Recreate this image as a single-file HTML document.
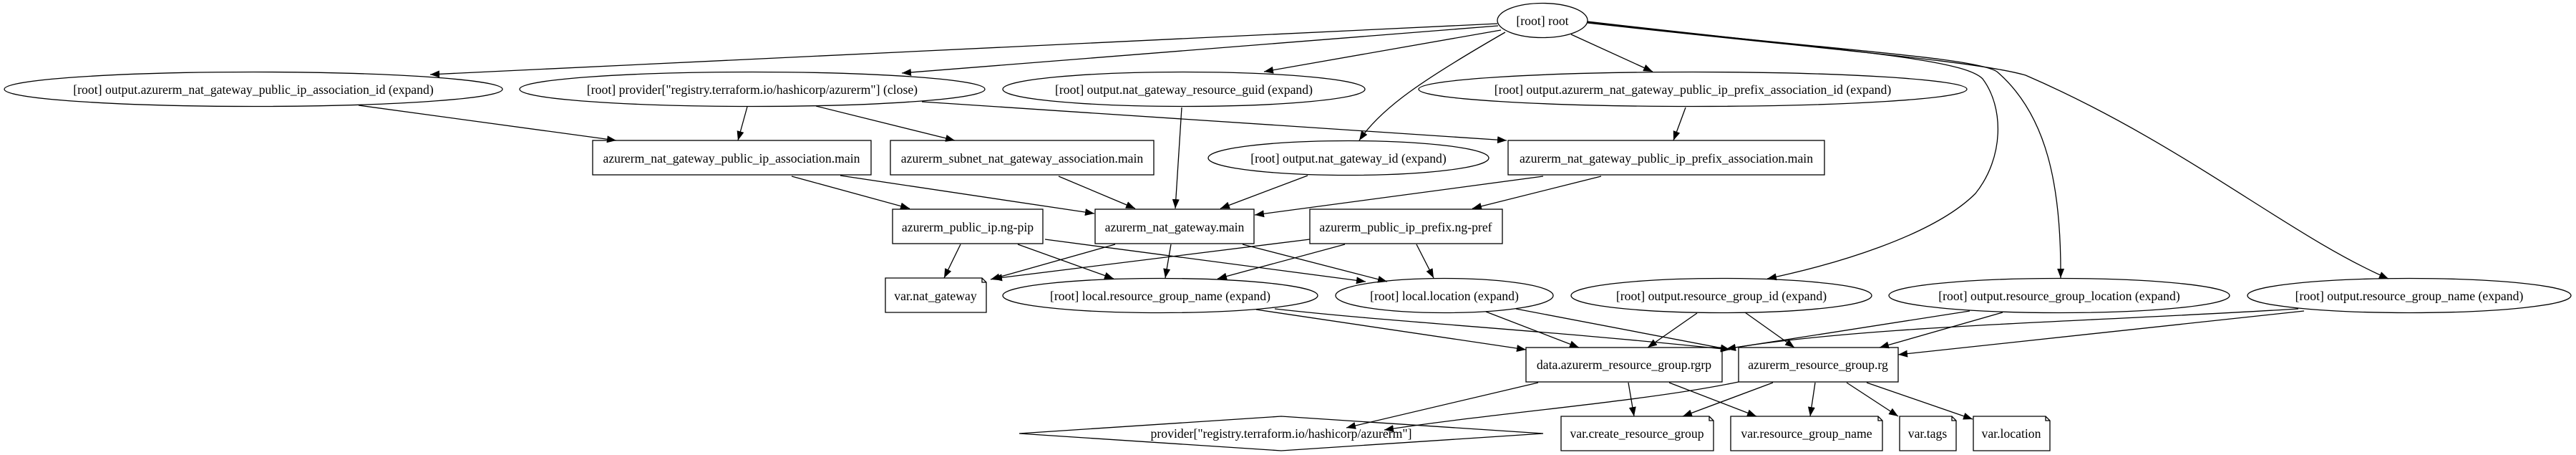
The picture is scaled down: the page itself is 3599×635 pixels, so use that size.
<!DOCTYPE html>
<html><head><meta charset="utf-8"><style>
html,body{margin:0;padding:0;background:#fff;}
svg{display:block;}
text{font-family:"Liberation Serif",serif;font-size:17.7px;fill:#000;}
</style></head><body>
<svg width="3599" height="635" viewBox="0 0 3599 635" xmlns="http://www.w3.org/2000/svg">
<defs>
<marker id="a" markerUnits="userSpaceOnUse" markerWidth="14" markerHeight="10" refX="13" refY="5" orient="auto">
<path d="M0,0 L13,5 L0,10 Z" fill="#000"/>
</marker>
</defs>
<g fill="none" stroke="#000" stroke-width="1.3">
<ellipse cx="2155" cy="28.5" rx="63" ry="24"/>
<ellipse cx="354" cy="124.5" rx="348" ry="24"/>
<ellipse cx="1051" cy="124.5" rx="325" ry="24"/>
<ellipse cx="1654" cy="124.5" rx="253" ry="24"/>
<ellipse cx="2365" cy="124.5" rx="383" ry="24"/>
<rect x="828" y="196" width="389" height="48"/>
<rect x="1244" y="196" width="368" height="48"/>
<ellipse cx="1884" cy="220.5" rx="196" ry="24"/>
<rect x="2107" y="196" width="442" height="48"/>
<rect x="1247" y="292" width="210" height="48"/>
<rect x="1530" y="292" width="222" height="48"/>
<rect x="1830" y="292" width="269" height="48"/>
<path d="M1237,388 H1372 L1378,394 V436 H1237 Z M1372,388 V394 H1378"/>
<ellipse cx="1621" cy="412.5" rx="220" ry="24"/>
<ellipse cx="2018" cy="412.5" rx="152" ry="24"/>
<ellipse cx="2405" cy="412.5" rx="210" ry="24"/>
<ellipse cx="2877" cy="412.5" rx="238" ry="24"/>
<ellipse cx="3366" cy="412.5" rx="226" ry="24"/>
<rect x="2132" y="485" width="274" height="48"/>
<rect x="2429" y="485" width="223" height="48"/>
<path d="M1790,581 L2156,605 L1790,629 L1424,605 Z"/>
<path d="M2181,581 H2388 L2394,587 V629 H2181 Z M2388,581 V587 H2394"/>
<path d="M2418,581 H2624 L2630,587 V629 H2418 Z M2624,581 V587 H2630"/>
<path d="M2654,581 H2727 L2733,587 V629 H2654 Z M2727,581 V587 H2733"/>
<path d="M2757,581 H2858 L2864,587 V629 H2757 Z M2858,581 V587 H2864"/>
</g>
<g fill="none" stroke="#000" stroke-width="1.3" marker-end="url(#a)">
<path d="M2092,33 L601,104"/>
<path d="M2093,36 L1260,102"/>
<path d="M2097,42 L1766,100"/>
<path d="M2103,45 C1990,110 1930,150 1899,196"/>
<path d="M2195,48 L2309,100"/>
<path d="M2218,30 C2560,70 2740,80 2770,110 C2800,150 2800,220 2760,270 C2700,330 2560,370 2469,389"/>
<path d="M2218,31 C2560,70 2760,80 2790,100 C2860,160 2880,260 2879,388"/>
<path d="M2218,32 C2560,70 2760,85 2830,105 C3050,200 3200,330 3337,389"/>
<path d="M501,147 L861,196"/>
<path d="M1044,149 L1031,196"/>
<path d="M1140,148 L1334,196"/>
<path d="M1288,142 L2105,196"/>
<path d="M1651,150 L1642,291"/>
<path d="M2355,150 L2338,196"/>
<path d="M1106,246 L1271,291"/>
<path d="M1174,245 L1529,298"/>
<path d="M1479,246 L1586,291"/>
<path d="M1827,245 L1705,291"/>
<path d="M2156,246 L1753,300"/>
<path d="M2237,246 L2057,291"/>
<path d="M1342,341 L1319,388"/>
<path d="M1422,341 L1556,389"/>
<path d="M1460,334 L1908,393"/>
<path d="M1558,341 L1384,390"/>
<path d="M1636,341 L1628,388"/>
<path d="M1736,341 L1938,393"/>
<path d="M1830,334 L1387,389"/>
<path d="M1879,341 L1701,389"/>
<path d="M1979,341 L2003,388"/>
<path d="M1755,432 L2132,488"/>
<path d="M1781,431 C1950,450 2150,460 2417,488"/>
<path d="M2076,435 L2206,485"/>
<path d="M2118,431 L2417,488"/>
<path d="M2371,437 L2302,485"/>
<path d="M2438,436 L2507,485"/>
<path d="M2752,434 L2412,487"/>
<path d="M2798,436 L2626,485"/>
<path d="M3211,431 C2900,450 2600,455 2412,487"/>
<path d="M3219,434 L2652,495"/>
<path d="M2149,534 L1881,597"/>
<path d="M2429,533 C2300,560 2100,575 1934,600"/>
<path d="M2275,534 L2283,581"/>
<path d="M2332,534 L2454,581"/>
<path d="M2477,534 L2351,581"/>
<path d="M2536,534 L2529,581"/>
<path d="M2580,534 L2652,581"/>
<path d="M2608,534 L2756,585"/>
</g>
<g text-anchor="middle">
<text x="2155" y="35">[root] root</text>
<text x="354" y="131">[root] output.azurerm_nat_gateway_public_ip_association_id (expand)</text>
<text x="1051" y="131">[root] provider["registry.terraform.io/hashicorp/azurerm"] (close)</text>
<text x="1654" y="131">[root] output.nat_gateway_resource_guid (expand)</text>
<text x="2365" y="131">[root] output.azurerm_nat_gateway_public_ip_prefix_association_id (expand)</text>
<text x="1022" y="227">azurerm_nat_gateway_public_ip_association.main</text>
<text x="1428" y="227">azurerm_subnet_nat_gateway_association.main</text>
<text x="1884" y="227">[root] output.nat_gateway_id (expand)</text>
<text x="2328" y="227">azurerm_nat_gateway_public_ip_prefix_association.main</text>
<text x="1352" y="323">azurerm_public_ip.ng-pip</text>
<text x="1641" y="323">azurerm_nat_gateway.main</text>
<text x="1964" y="323">azurerm_public_ip_prefix.ng-pref</text>
<text x="1307" y="419">var.nat_gateway</text>
<text x="1621" y="419">[root] local.resource_group_name (expand)</text>
<text x="2018" y="419">[root] local.location (expand)</text>
<text x="2405" y="419">[root] output.resource_group_id (expand)</text>
<text x="2877" y="419">[root] output.resource_group_location (expand)</text>
<text x="3366" y="419">[root] output.resource_group_name (expand)</text>
<text x="2269" y="515">data.azurerm_resource_group.rgrp</text>
<text x="2540" y="515">azurerm_resource_group.rg</text>
<text x="1790" y="611">provider["registry.terraform.io/hashicorp/azurerm"]</text>
<text x="2287" y="611">var.create_resource_group</text>
<text x="2524" y="611">var.resource_group_name</text>
<text x="2693" y="611">var.tags</text>
<text x="2810" y="611">var.location</text>
</g>
</svg>
</body></html>
